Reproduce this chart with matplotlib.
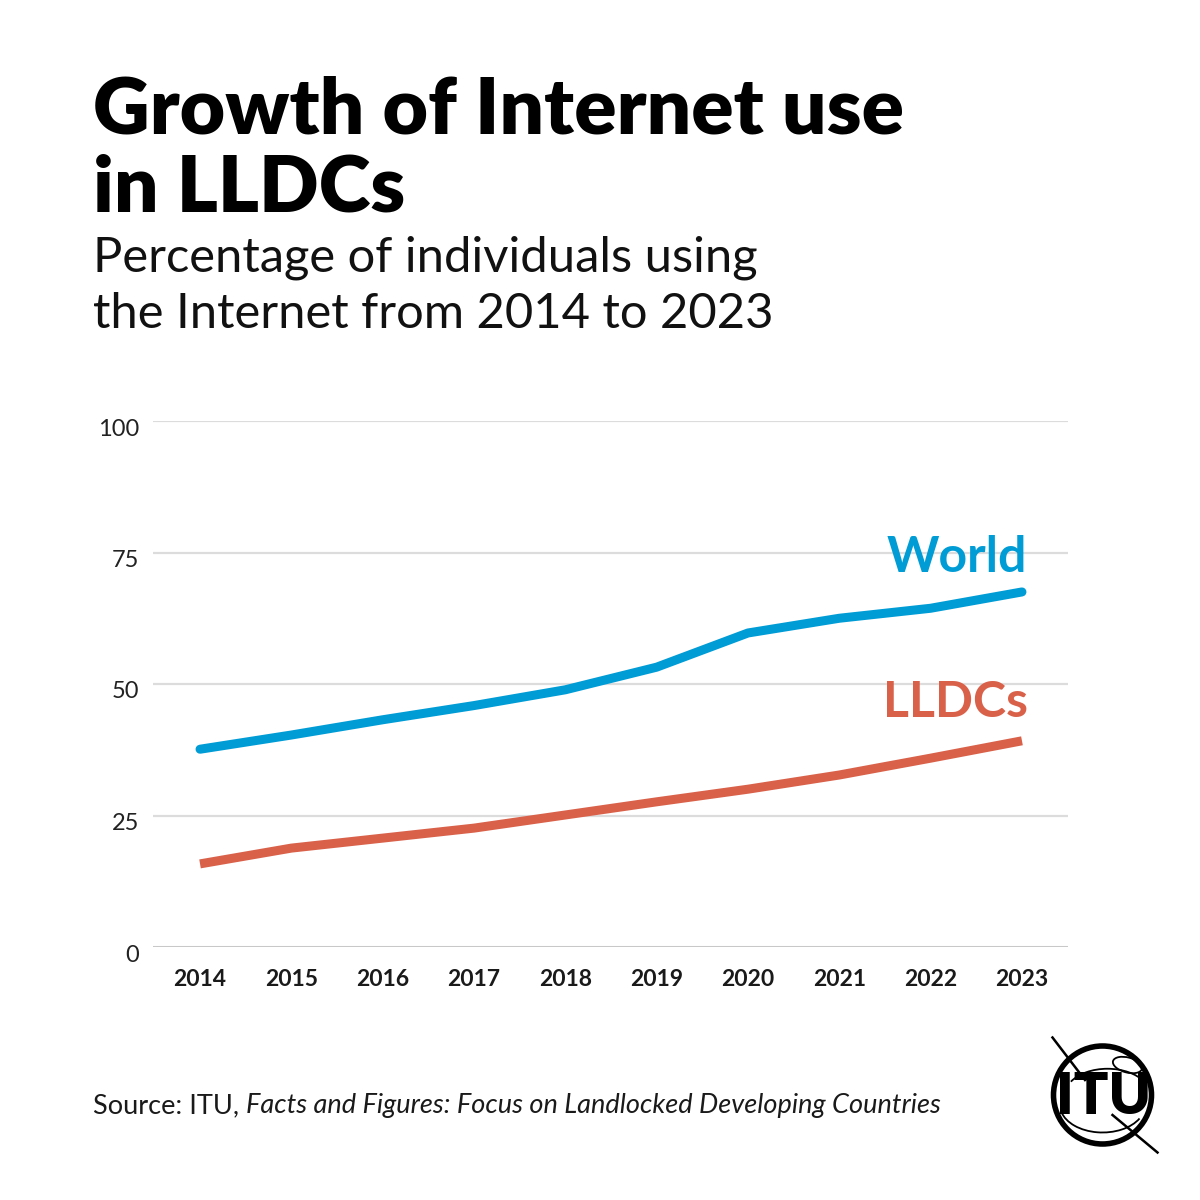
import numpy as np
import matplotlib
matplotlib.use("Agg")
import matplotlib.pyplot as plt
import matplotlib.transforms as mtransforms
from matplotlib.patches import Circle, Ellipse, Arc

plt.rcParams['font.family'] = ['Lato', 'DejaVu Sans']

# data
years = [2014, 2015, 2016, 2017, 2018, 2019, 2020, 2021, 2022, 2023]
world = [37.6, 40.3, 43.2, 45.9, 48.9, 53.2, 59.7, 62.5, 64.4, 67.5]
lldcs = [15.8, 18.8, 20.7, 22.6, 25.1, 27.6, 30.0, 32.7, 35.9, 39.2]
yticks = [0, 25, 50, 75, 100]

blue = '#009cd6'
red = '#d9614a'

fig = plt.figure(figsize=(12, 12), dpi=100)
W, H = 1200, 1200

# title + subtitle
fig.text(93 / W, 1 - 133 / H, "Growth of Internet use", fontsize=56.5, fontweight='heavy',
         color='black', va='baseline')
fig.text(93 / W, 1 - 211 / H, "in LLDCs", fontsize=56.5, fontweight='heavy',
         color='black', va='baseline')
fig.text(93 / W, 1 - 272 / H, "Percentage of individuals using", fontsize=35.2,
         color='#111111', va='baseline')
fig.text(93 / W, 1 - 328 / H, "the Internet from 2014 to 2023", fontsize=35.2,
         color='#111111', va='baseline')

ax = fig.add_axes([153 / W, 1 - 947 / H, (1068 - 153) / W, (947 - 421) / H])
ax.set_xlim(2013.485, 2023.504)
ax.set_ylim(0, 100)
for s in ax.spines.values():
    s.set_visible(False)

for v in yticks:
    if v == 0:
        ax.axhline(v, color='#c8c8c8', lw=2.2, zorder=1)
    else:
        ax.axhline(v, color='#dcdcdc', lw=1.6, zorder=1)

ax.plot(years, world, color=blue, lw=6.5, solid_capstyle='round', zorder=3)
ax.plot(years, lldcs, color=red, lw=6.5, solid_capstyle='butt', zorder=3)

ax.set_yticks(yticks)
ax.set_yticklabels([str(v) for v in yticks], fontsize=17, color='#222222')
ax.set_xticks(years)
ax.set_xticklabels([str(y) for y in years], fontsize=16.5, fontweight='bold', color='#1a1a1a')
ax.tick_params(axis='y', length=0, pad=10)
ax.tick_params(axis='x', length=0, pad=16)
shift = mtransforms.ScaledTranslation(0, -6 / 100, fig.dpi_scale_trans)
for lab in ax.get_yticklabels():
    lab.set_transform(lab.get_transform() + shift)

ax.text(2023.05, world[-1] + 3.8, "World", color=blue, fontsize=36, fontweight='bold',
        ha='right', va='baseline')
ax.text(2023.07, lldcs[-1] + 4.5, "LLDCs", color=red, fontsize=36, fontweight='bold',
        ha='right', va='baseline')

# source line
t1 = fig.text(93 / W, 1 - 1113 / H, "Source: ITU, ", fontsize=19.5, color='#1a1a1a',
              va='baseline')
fig.canvas.draw()
bb = t1.get_window_extent()
fig.text(bb.x1 / W, 1 - 1113 / H, "Facts and Figures: Focus on Landlocked Developing Countries",
         fontsize=19.5, style='italic', color='#1a1a1a', va='baseline')

# ITU logo (simplified)
lax = fig.add_axes([1040 / W, 1 - 1160 / H, 125 / W, 125 / H])
lax.set_xlim(-1.25, 1.25)
lax.set_ylim(-1.25, 1.25)
lax.set_aspect('equal')
lax.axis('off')
lax.add_patch(Circle((0.0, 0.05), 0.98, fill=False, lw=4, color='black'))
lax.add_patch(Ellipse((0.5, 0.65), 0.6, 0.3, angle=-15, fill=False, lw=1.3, color='black'))
lax.add_patch(Arc((0.1, 0.05), 1.7, 1.05, theta1=20, theta2=160, lw=1.3, color='black'))
lax.add_patch(Arc((0, -0.15), 1.7, 1.1, theta1=190, theta2=340, lw=1.3, color='black'))
lax.plot([-1.0, -0.35], [1.2, 0.35], color='black', lw=1.8)
lax.plot([0.2, 1.1], [-0.35, -1.1], color='black', lw=1.8)
lax.text(0.02, 0.0, "ITU", fontsize=41, fontweight='heavy', ha='center', va='center',
         color='black')

fig.savefig("out.png", dpi=100, facecolor='white')
